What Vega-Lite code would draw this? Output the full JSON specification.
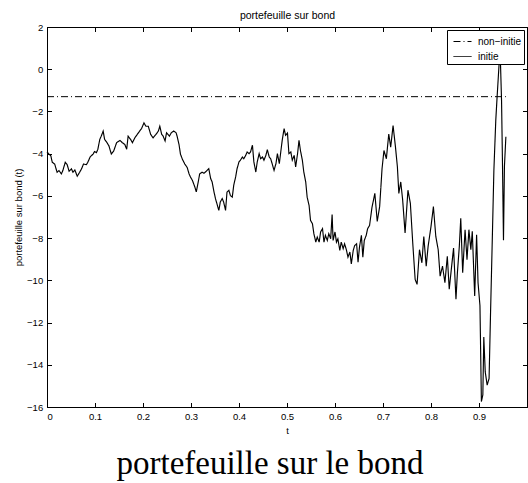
{
  "$schema": "https://vega.github.io/schema/vega-lite/v6.json",
  "width": 480,
  "height": 380,
  "autosize": {"type": "none"},
  "padding": {"left": 47, "top": 27, "right": 1, "bottom": 76},
  "background": "white",
  "title": {"text": "portefeuille sur le bond", "orient": "bottom", "anchor": "middle", "font": "Liberation Serif", "fontSize": 33, "fontWeight": "normal", "color": "black", "offset": 13, "dx": -17},
  "datasets": {
    "noninitie": [
      {"t": 0, "v": -1.3, "s": "non−initie"},
      {"t": 0.956, "v": -1.3, "s": "non−initie"}
    ],
    "initie": [
      {"t":0.000,"v":-3.92,"s":"initie"},{"t":0.004,"v":-4.02,"s":"initie"},{"t":0.008,"v":-4.10,"s":"initie"},{"t":0.011,"v":-4.41,"s":"initie"},
      {"t":0.016,"v":-4.49,"s":"initie"},{"t":0.021,"v":-4.88,"s":"initie"},{"t":0.025,"v":-4.80,"s":"initie"},{"t":0.030,"v":-4.96,"s":"initie"},
      {"t":0.033,"v":-4.80,"s":"initie"},{"t":0.038,"v":-4.41,"s":"initie"},{"t":0.042,"v":-4.52,"s":"initie"},{"t":0.046,"v":-4.83,"s":"initie"},
      {"t":0.051,"v":-4.72,"s":"initie"},{"t":0.054,"v":-4.88,"s":"initie"},{"t":0.058,"v":-4.77,"s":"initie"},{"t":0.063,"v":-5.07,"s":"initie"},
      {"t":0.068,"v":-4.88,"s":"initie"},{"t":0.072,"v":-4.72,"s":"initie"},{"t":0.076,"v":-4.49,"s":"initie"},{"t":0.082,"v":-4.52,"s":"initie"},
      {"t":0.085,"v":-4.41,"s":"initie"},{"t":0.090,"v":-4.15,"s":"initie"},{"t":0.096,"v":-4.02,"s":"initie"},{"t":0.099,"v":-3.90,"s":"initie"},
      {"t":0.103,"v":-3.95,"s":"initie"},{"t":0.106,"v":-3.79,"s":"initie"},{"t":0.110,"v":-3.32,"s":"initie"},{"t":0.113,"v":-3.17,"s":"initie"},
      {"t":0.117,"v":-2.93,"s":"initie"},{"t":0.120,"v":-3.32,"s":"initie"},{"t":0.125,"v":-3.48,"s":"initie"},{"t":0.129,"v":-3.63,"s":"initie"},
      {"t":0.134,"v":-4.02,"s":"initie"},{"t":0.139,"v":-3.87,"s":"initie"},{"t":0.145,"v":-3.48,"s":"initie"},{"t":0.152,"v":-3.37,"s":"initie"},
      {"t":0.157,"v":-3.48,"s":"initie"},{"t":0.162,"v":-3.56,"s":"initie"},{"t":0.166,"v":-3.79,"s":"initie"},{"t":0.169,"v":-3.17,"s":"initie"},
      {"t":0.174,"v":-3.32,"s":"initie"},{"t":0.178,"v":-3.48,"s":"initie"},{"t":0.183,"v":-3.25,"s":"initie"},{"t":0.188,"v":-3.09,"s":"initie"},
      {"t":0.193,"v":-2.93,"s":"initie"},{"t":0.197,"v":-2.81,"s":"initie"},{"t":0.202,"v":-2.54,"s":"initie"},{"t":0.206,"v":-2.70,"s":"initie"},
      {"t":0.211,"v":-2.70,"s":"initie"},{"t":0.216,"v":-3.09,"s":"initie"},{"t":0.221,"v":-3.25,"s":"initie"},{"t":0.227,"v":-3.09,"s":"initie"},
      {"t":0.232,"v":-2.93,"s":"initie"},{"t":0.235,"v":-2.70,"s":"initie"},{"t":0.239,"v":-3.09,"s":"initie"},{"t":0.242,"v":-3.17,"s":"initie"},
      {"t":0.246,"v":-3.40,"s":"initie"},{"t":0.249,"v":-3.01,"s":"initie"},{"t":0.255,"v":-3.17,"s":"initie"},{"t":0.259,"v":-3.01,"s":"initie"},
      {"t":0.264,"v":-2.93,"s":"initie"},{"t":0.269,"v":-3.01,"s":"initie"},{"t":0.271,"v":-3.17,"s":"initie"},{"t":0.275,"v":-3.56,"s":"initie"},
      {"t":0.278,"v":-4.02,"s":"initie"},{"t":0.282,"v":-4.26,"s":"initie"},{"t":0.287,"v":-4.49,"s":"initie"},{"t":0.292,"v":-4.65,"s":"initie"},
      {"t":0.296,"v":-4.96,"s":"initie"},{"t":0.299,"v":-5.11,"s":"initie"},{"t":0.303,"v":-5.27,"s":"initie"},{"t":0.308,"v":-5.58,"s":"initie"},
      {"t":0.311,"v":-5.81,"s":"initie"},{"t":0.315,"v":-5.35,"s":"initie"},{"t":0.318,"v":-4.96,"s":"initie"},{"t":0.323,"v":-4.88,"s":"initie"},
      {"t":0.327,"v":-4.93,"s":"initie"},{"t":0.330,"v":-4.87,"s":"initie"},{"t":0.337,"v":-4.71,"s":"initie"},{"t":0.341,"v":-5.18,"s":"initie"},
      {"t":0.344,"v":-5.34,"s":"initie"},{"t":0.348,"v":-5.82,"s":"initie"},{"t":0.351,"v":-6.13,"s":"initie"},{"t":0.355,"v":-6.45,"s":"initie"},
      {"t":0.358,"v":-6.69,"s":"initie"},{"t":0.361,"v":-6.29,"s":"initie"},{"t":0.365,"v":-6.13,"s":"initie"},{"t":0.368,"v":-6.29,"s":"initie"},
      {"t":0.372,"v":-6.69,"s":"initie"},{"t":0.375,"v":-5.82,"s":"initie"},{"t":0.379,"v":-5.74,"s":"initie"},{"t":0.382,"v":-5.98,"s":"initie"},
      {"t":0.386,"v":-6.06,"s":"initie"},{"t":0.389,"v":-5.50,"s":"initie"},{"t":0.393,"v":-5.10,"s":"initie"},{"t":0.396,"v":-4.71,"s":"initie"},
      {"t":0.400,"v":-4.39,"s":"initie"},{"t":0.403,"v":-4.31,"s":"initie"},{"t":0.407,"v":-4.16,"s":"initie"},{"t":0.410,"v":-4.24,"s":"initie"},
      {"t":0.414,"v":-4.08,"s":"initie"},{"t":0.417,"v":-3.92,"s":"initie"},{"t":0.421,"v":-4.00,"s":"initie"},{"t":0.424,"v":-3.92,"s":"initie"},
      {"t":0.428,"v":-3.60,"s":"initie"},{"t":0.431,"v":-4.39,"s":"initie"},{"t":0.435,"v":-4.87,"s":"initie"},{"t":0.438,"v":-4.39,"s":"initie"},
      {"t":0.442,"v":-4.00,"s":"initie"},{"t":0.445,"v":-4.24,"s":"initie"},{"t":0.449,"v":-4.16,"s":"initie"},{"t":0.452,"v":-4.31,"s":"initie"},
      {"t":0.456,"v":-4.08,"s":"initie"},{"t":0.459,"v":-3.81,"s":"initie"},{"t":0.463,"v":-4.16,"s":"initie"},{"t":0.466,"v":-4.24,"s":"initie"},
      {"t":0.470,"v":-4.55,"s":"initie"},{"t":0.473,"v":-4.79,"s":"initie"},{"t":0.477,"v":-4.47,"s":"initie"},{"t":0.480,"v":-4.00,"s":"initie"},
      {"t":0.484,"v":-4.47,"s":"initie"},{"t":0.487,"v":-3.92,"s":"initie"},{"t":0.490,"v":-3.37,"s":"initie"},{"t":0.494,"v":-2.81,"s":"initie"},
      {"t":0.497,"v":-3.13,"s":"initie"},{"t":0.501,"v":-3.02,"s":"initie"},{"t":0.504,"v":-4.00,"s":"initie"},{"t":0.508,"v":-3.92,"s":"initie"},
      {"t":0.511,"v":-4.31,"s":"initie"},{"t":0.515,"v":-4.08,"s":"initie"},{"t":0.518,"v":-4.63,"s":"initie"},{"t":0.522,"v":-4.00,"s":"initie"},
      {"t":0.525,"v":-3.37,"s":"initie"},{"t":0.528,"v":-3.85,"s":"initie"},{"t":0.532,"v":-4.31,"s":"initie"},{"t":0.535,"v":-4.87,"s":"initie"},
      {"t":0.539,"v":-5.34,"s":"initie"},{"t":0.542,"v":-6.06,"s":"initie"},{"t":0.546,"v":-6.45,"s":"initie"},{"t":0.549,"v":-7.16,"s":"initie"},
      {"t":0.553,"v":-7.32,"s":"initie"},{"t":0.556,"v":-7.79,"s":"initie"},{"t":0.560,"v":-8.19,"s":"initie"},{"t":0.563,"v":-7.95,"s":"initie"},
      {"t":0.567,"v":-8.19,"s":"initie"},{"t":0.570,"v":-7.71,"s":"initie"},{"t":0.574,"v":-7.55,"s":"initie"},{"t":0.577,"v":-8.19,"s":"initie"},
      {"t":0.580,"v":-7.87,"s":"initie"},{"t":0.584,"v":-8.11,"s":"initie"},{"t":0.587,"v":-7.79,"s":"initie"},{"t":0.591,"v":-8.03,"s":"initie"},
      {"t":0.594,"v":-6.88,"s":"initie"},{"t":0.596,"v":-8.11,"s":"initie"},{"t":0.600,"v":-7.71,"s":"initie"},{"t":0.603,"v":-8.19,"s":"initie"},
      {"t":0.606,"v":-8.03,"s":"initie"},{"t":0.610,"v":-8.58,"s":"initie"},{"t":0.613,"v":-8.19,"s":"initie"},{"t":0.617,"v":-8.50,"s":"initie"},
      {"t":0.620,"v":-8.27,"s":"initie"},{"t":0.624,"v":-8.58,"s":"initie"},{"t":0.627,"v":-8.90,"s":"initie"},{"t":0.631,"v":-8.66,"s":"initie"},
      {"t":0.634,"v":-9.22,"s":"initie"},{"t":0.638,"v":-8.58,"s":"initie"},{"t":0.641,"v":-8.35,"s":"initie"},{"t":0.645,"v":-8.27,"s":"initie"},
      {"t":0.648,"v":-9.14,"s":"initie"},{"t":0.651,"v":-8.43,"s":"initie"},{"t":0.655,"v":-7.87,"s":"initie"},{"t":0.658,"v":-8.90,"s":"initie"},
      {"t":0.661,"v":-8.11,"s":"initie"},{"t":0.665,"v":-7.87,"s":"initie"},{"t":0.668,"v":-7.55,"s":"initie"},{"t":0.672,"v":-7.40,"s":"initie"},
      {"t":0.677,"v":-6.55,"s":"initie"},{"t":0.683,"v":-5.88,"s":"initie"},{"t":0.688,"v":-7.21,"s":"initie"},{"t":0.693,"v":-6.51,"s":"initie"},
      {"t":0.698,"v":-4.71,"s":"initie"},{"t":0.702,"v":-3.85,"s":"initie"},{"t":0.707,"v":-4.24,"s":"initie"},{"t":0.712,"v":-3.07,"s":"initie"},
      {"t":0.716,"v":-3.69,"s":"initie"},{"t":0.721,"v":-2.67,"s":"initie"},{"t":0.726,"v":-3.69,"s":"initie"},{"t":0.730,"v":-4.63,"s":"initie"},
      {"t":0.733,"v":-5.88,"s":"initie"},{"t":0.737,"v":-5.34,"s":"initie"},{"t":0.741,"v":-6.20,"s":"initie"},{"t":0.746,"v":-7.76,"s":"initie"},
      {"t":0.752,"v":-5.73,"s":"initie"},{"t":0.757,"v":-6.35,"s":"initie"},{"t":0.762,"v":-8.24,"s":"initie"},{"t":0.767,"v":-9.96,"s":"initie"},
      {"t":0.771,"v":-10.19,"s":"initie"},{"t":0.776,"v":-8.55,"s":"initie"},{"t":0.781,"v":-9.17,"s":"initie"},{"t":0.785,"v":-7.92,"s":"initie"},
      {"t":0.790,"v":-9.33,"s":"initie"},{"t":0.794,"v":-8.39,"s":"initie"},{"t":0.800,"v":-7.45,"s":"initie"},{"t":0.805,"v":-6.51,"s":"initie"},
      {"t":0.810,"v":-7.92,"s":"initie"},{"t":0.815,"v":-8.55,"s":"initie"},{"t":0.819,"v":-9.80,"s":"initie"},{"t":0.824,"v":-9.33,"s":"initie"},
      {"t":0.829,"v":-10.11,"s":"initie"},{"t":0.834,"v":-8.86,"s":"initie"},{"t":0.838,"v":-10.42,"s":"initie"},{"t":0.843,"v":-9.33,"s":"initie"},
      {"t":0.847,"v":-8.47,"s":"initie"},{"t":0.852,"v":-10.90,"s":"initie"},{"t":0.855,"v":-9.64,"s":"initie"},{"t":0.859,"v":-8.39,"s":"initie"},
      {"t":0.862,"v":-7.06,"s":"initie"},{"t":0.866,"v":-9.64,"s":"initie"},{"t":0.871,"v":-7.60,"s":"initie"},{"t":0.875,"v":-9.02,"s":"initie"},
      {"t":0.879,"v":-7.60,"s":"initie"},{"t":0.883,"v":-8.55,"s":"initie"},{"t":0.886,"v":-7.68,"s":"initie"},{"t":0.891,"v":-10.74,"s":"initie"},
      {"t":0.895,"v":-7.84,"s":"initie"},{"t":0.898,"v":-10.11,"s":"initie"},{"t":0.902,"v":-11.20,"s":"initie"},{"t":0.905,"v":-15.74,"s":"initie"},
      {"t":0.908,"v":-15.43,"s":"initie"},{"t":0.910,"v":-12.69,"s":"initie"},{"t":0.913,"v":-14.34,"s":"initie"},{"t":0.917,"v":-14.96,"s":"initie"},
      {"t":0.921,"v":-14.65,"s":"initie"},{"t":0.924,"v":-11.60,"s":"initie"},{"t":0.928,"v":-7.76,"s":"initie"},{"t":0.931,"v":-4.80,"s":"initie"},
      {"t":0.935,"v":-2.40,"s":"initie"},{"t":0.938,"v":-1.20,"s":"initie"},{"t":0.942,"v":0.30,"s":"initie"},{"t":0.944,"v":0.90,"s":"initie"},
      {"t":0.947,"v":-1.50,"s":"initie"},{"t":0.949,"v":-4.60,"s":"initie"},{"t":0.951,"v":-8.10,"s":"initie"},{"t":0.953,"v":-4.60,"s":"initie"},
      {"t":0.956,"v":-3.20,"s":"initie"}
    ]
  },
  "layer": [
    {
      "data": {"name": "noninitie"},
      "mark": {"type": "line", "strokeWidth": 1},
      "encoding": {
        "x": {"field": "t", "type": "quantitative", "scale": {"domain": [0, 1], "nice": false, "zero": false},
              "axis": {"orient": "top", "values": [0, 0.1, 0.2, 0.3, 0.4, 0.5, 0.6, 0.7, 0.8, 0.9], "labels": false, "tickSize": -4.5,
                       "title": "portefeuille sur bond", "titleFontSize": 10.5, "titlePadding": 6.5}},
        "y": {"field": "v", "type": "quantitative", "scale": {"domain": [-16, 2], "nice": false, "zero": false},
              "axis": {"orient": "right", "values": [-16, -14, -12, -10, -8, -6, -4, -2, 0, 2], "labels": false, "tickSize": -4.5, "title": null}},
        "color": {"field": "s", "type": "nominal", "scale": {"domain": ["non−initie", "initie"], "range": ["black", "black"]}, "legend": {"title": null}},
        "strokeDash": {"field": "s", "type": "nominal", "scale": {"domain": ["non−initie", "initie"], "range": [[7, 3, 1, 3], [1, 0]]}, "legend": {"title": null}}
      }
    },
    {
      "data": {"name": "initie"},
      "mark": {"type": "line", "strokeWidth": 1.15},
      "encoding": {
        "x": {"field": "t", "type": "quantitative",
              "axis": {"orient": "bottom", "values": [0, 0.1, 0.2, 0.3, 0.4, 0.5, 0.6, 0.7, 0.8, 0.9], "format": "~g", "tickSize": -4.5,
                       "labelPadding": 9.3, "title": "t", "titlePadding": 4}},
        "y": {"field": "v", "type": "quantitative",
              "axis": {"orient": "left", "values": [-16, -14, -12, -10, -8, -6, -4, -2, 0, 2], "format": "~g", "tickSize": -4.5,
                       "labelPadding": 8.8, "title": "portefeuille sur bond  (t)", "titlePadding": 3}},
        "color": {"field": "s", "type": "nominal", "legend": {"title": null}},
        "strokeDash": {"field": "s", "type": "nominal", "legend": {"title": null}}
      }
    }
  ],
  "resolve": {"axis": {"x": "independent", "y": "independent"}},
  "config": {
    "view": {"stroke": "black", "strokeWidth": 1},
    "axis": {
      "grid": false, "domainColor": "black", "domainWidth": 1, "tickColor": "black", "tickWidth": 1,
      "labelColor": "black", "titleColor": "black", "labelFont": "Liberation Sans", "titleFont": "Liberation Sans",
      "labelFontSize": 9.5, "titleFontSize": 9.5, "titleFontWeight": "normal"
    },
    "legend": {
      "orient": "top-right", "offset": 3, "strokeColor": "black", "fillColor": "white", "padding": 2,
      "labelFont": "Liberation Sans", "labelFontSize": 10, "labelColor": "black",
      "symbolType": "stroke", "symbolSize": 324, "symbolStrokeWidth": 1, "rowPadding": -10, "labelOffset": 6, "symbolOffset": 4
    }
  }
}
